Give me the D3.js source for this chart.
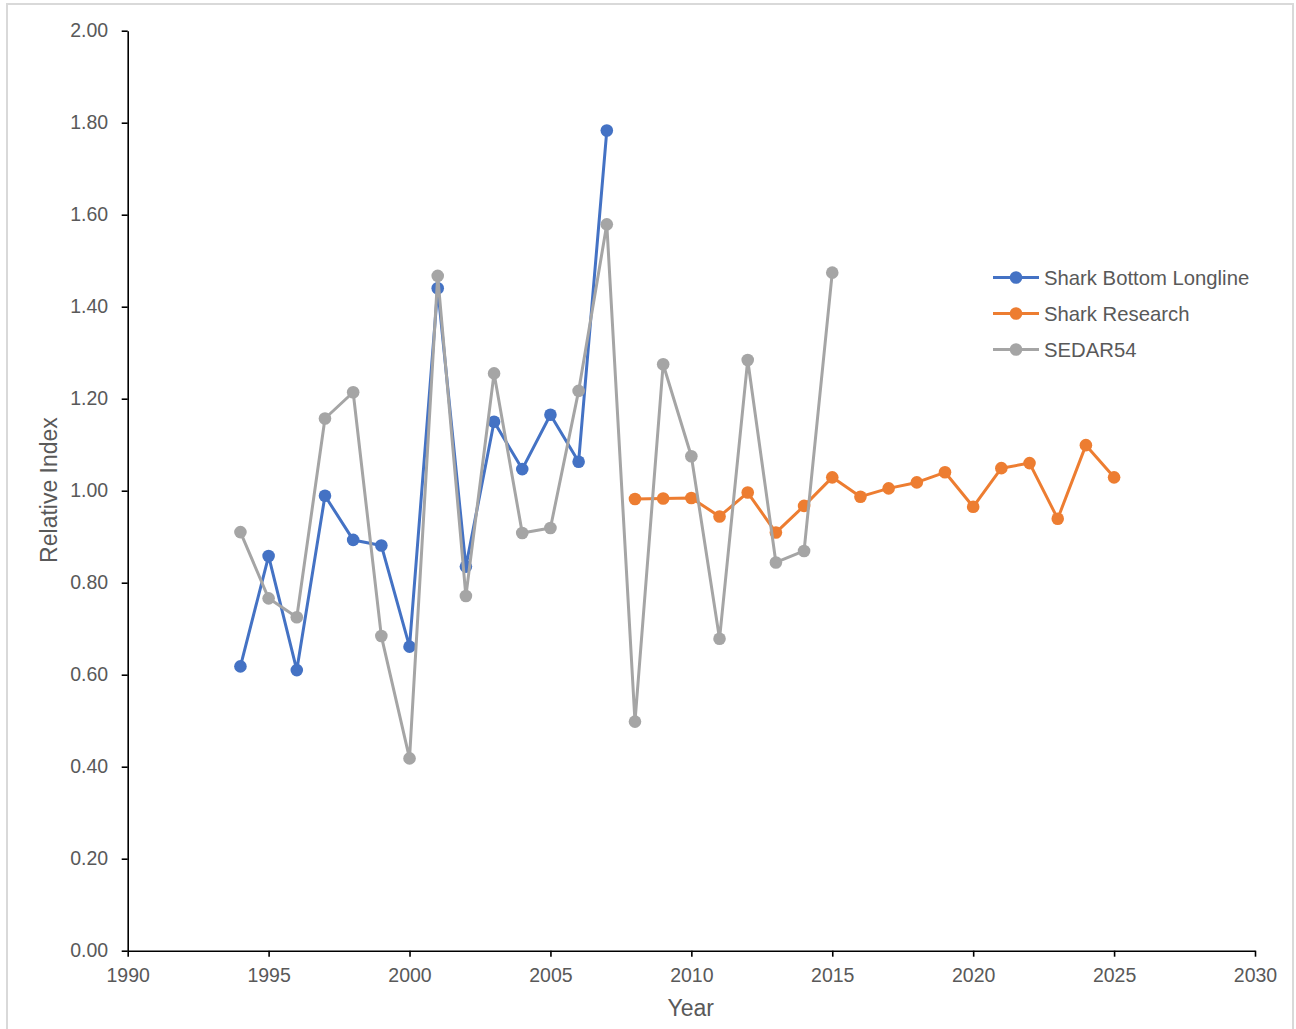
<!DOCTYPE html>
<html>
<head>
<meta charset="utf-8">
<script src="https://cdn.jsdelivr.net/npm/d3@7"></script>
<style>
  body { margin: 0; background: #fff; }
  svg { display: block; font-family: "Liberation Sans", Arial, sans-serif; }
</style>
</head>
<body>
<svg id="chart"></svg>
<script>
"use strict";

// Years covered by each survey
const longlineYears = [1994, 1995, 1996, 1997, 1998, 1999, 2000, 2001, 2002, 2003, 2004, 2005, 2006, 2007];
const researchYears = [2008, 2009, 2010, 2011, 2012, 2013, 2014, 2015, 2016, 2017, 2018, 2019, 2020, 2021, 2022, 2023, 2024, 2025];
const sedarYears = [1994, 1995, 1996, 1997, 1998, 1999, 2000, 2001, 2002, 2003, 2004, 2005, 2006, 2007,
    2008, 2009, 2010, 2011, 2012, 2013, 2014, 2015];

// Relative index values
const longlineValues = [0.618, 0.858, 0.610, 0.989, 0.893, 0.881, 0.661, 1.440, 0.835, 1.150, 1.047, 1.165, 1.063, 1.783];
const researchValues = [0.982, 0.983, 0.984, 0.944, 0.996, 0.909, 0.967, 1.029, 0.987, 1.005, 1.018, 1.040,
    0.965, 1.049, 1.060, 0.939, 1.099, 1.029];
const sedarValues = [0.910, 0.766, 0.725, 1.157, 1.214, 0.684, 0.418, 1.467, 0.771, 1.255, 0.908, 0.919, 1.217, 1.579,
    0.498, 1.275, 1.075, 0.678, 1.284, 0.844, 0.869, 1.474];

const seriesNames = ["Shark Bottom Longline", "Shark Research", "SEDAR54"];
const seriesColors = ["#4472C4", "#ED7D31", "#A5A5A5"];

const xTicks = [1990, 1995, 2000, 2005, 2010, 2015, 2020, 2025, 2030];
const yTicks = [0, 0.2, 0.4, 0.6, 0.8, 1.0, 1.2, 1.4, 1.6, 1.8, 2.0];

const series = [
    {name: seriesNames[0], color: seriesColors[0], points: longlineYears.map((y, i) => ({year: y, value: longlineValues[i]}))},
    {name: seriesNames[1], color: seriesColors[1], points: researchYears.map((y, i) => ({year: y, value: researchValues[i]}))},
    {name: seriesNames[2], color: seriesColors[2], points: sedarYears.map((y, i) => ({year: y, value: sedarValues[i]}))}
];

const width = 1296, height = 1029,
    margin = {top: 30.7, right: 41, bottom: 78.3, left: 127.7},
    textColor = "#595959";

const svg = d3.select("#chart")
    .attr("width", width)
    .attr("height", height);

// light frame round the chart area
svg.append("rect")
    .attr("x", 7).attr("y", 4)
    .attr("width", 1286).attr("height", 1040)
    .attr("fill", "#fff")
    .attr("stroke", "#d9d9d9")
    .attr("stroke-width", 2);

const x = d3.scaleLinear()
    .domain([1990, 2030])
    .range([margin.left, width - margin.right]);

const y = d3.scaleLinear()
    .domain([0, 2])
    .range([height - margin.bottom, margin.top]);

const xAxis = svg.append("g")
    .attr("transform", `translate(0,${y(0)})`)
    .call(d3.axisBottom(x).tickValues(xTicks).tickFormat(d3.format("d"))
        .tickSize(6).tickSizeOuter(0).tickPadding(11));

const yAxis = svg.append("g")
    .attr("transform", `translate(${x(1990)},0)`)
    .call(d3.axisLeft(y).tickValues(yTicks).tickFormat(d3.format(".2f"))
        .tickSize(6).tickSizeOuter(0).tickPadding(13.5));

[xAxis, yAxis].forEach((g) => {
    g.select(".domain").attr("stroke", "#000").attr("stroke-width", 1.6);
    g.selectAll(".tick line").attr("stroke", "#000").attr("stroke-width", 1.6);
    g.selectAll(".tick text")
        .attr("fill", textColor)
        .style("font-size", "19.5px")
        .style("font-family", "'Liberation Sans', Arial, sans-serif");
});

// axis titles
svg.append("text")
    .attr("x", 690.8)
    .attr("y", 1016)
    .attr("text-anchor", "middle")
    .attr("fill", textColor)
    .style("font-size", "23px")
    .text("Year");

svg.append("text")
    .attr("transform", "translate(57,490) rotate(-90)")
    .attr("text-anchor", "middle")
    .attr("fill", textColor)
    .style("font-size", "23px")
    .text("Relative Index");

const line = d3.line()
    .x((d) => x(d.year))
    .y((d) => y(d.value));

// draw each series with its markers, in order (grey ends on top)
series.forEach((s) => {
    const g = svg.append("g");
    g.append("path")
        .datum(s.points)
        .attr("fill", "none")
        .attr("stroke", s.color)
        .attr("stroke-width", 3)
        .attr("stroke-linejoin", "round")
        .attr("d", line);
    g.selectAll("circle")
        .data(s.points)
        .join("circle")
        .attr("cx", (d) => x(d.year))
        .attr("cy", (d) => y(d.value))
        .attr("r", 6.3)
        .attr("fill", s.color);
});

// legend
const legendRows = [277.5, 313.5, 349.5];
const legend = svg.append("g");
series.forEach((s, i) => {
    const row = legend.append("g").attr("transform", `translate(0,${legendRows[i]})`);
    row.append("line")
        .attr("x1", 993).attr("x2", 1039)
        .attr("stroke", s.color)
        .attr("stroke-width", 3);
    row.append("circle")
        .attr("cx", 1016)
        .attr("r", 6.3)
        .attr("fill", s.color);
    row.append("text")
        .attr("x", 1044)
        .attr("dy", "0.35em")
        .attr("fill", textColor)
        .style("font-size", "20.3px")
        .text(s.name);
});
</script>
</body>
</html>
